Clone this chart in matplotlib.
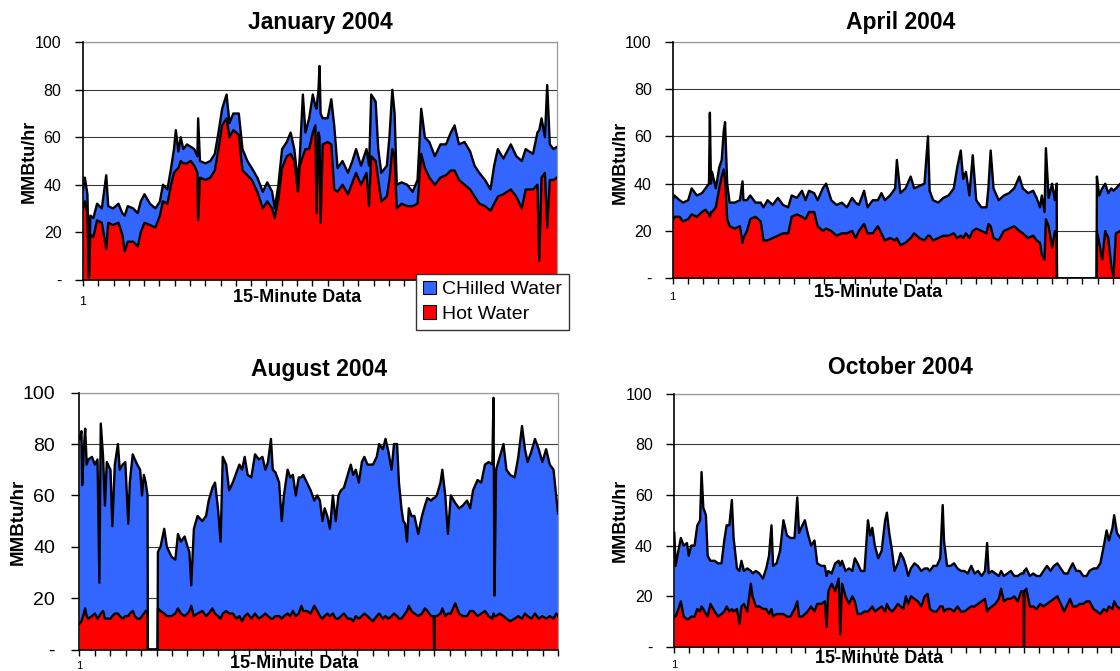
import matplotlib
matplotlib.use("Agg")
import matplotlib.pyplot as plt
from matplotlib.patches import Patch

plt.rcParams["font.family"] = ["Liberation Sans", "DejaVu Sans"]

W, H = 1120, 671
BLUE = "#3366ff"
RED = "#ff0000"

y_ticks = [0, 20, 40, 60, 80, 100]
y_labels = ["-", "20", "40", "60", "80", "100"]

# January 2004 (day of month, total load, hot water load)
jan_day = [0.00, 0.12, 0.29, 0.39, 0.48, 0.68, 0.92, 1.23, 1.52, 1.65, 1.96, 2.32, 2.57, 2.73, 2.93,
           3.29, 3.58, 3.78, 4.02, 4.38, 4.74, 5.03, 5.23, 5.52, 5.76, 5.95, 6.07, 6.24, 6.39, 6.56,
           6.80, 7.04, 7.28, 7.48, 7.53, 7.65, 8.01, 8.33, 8.62, 8.86, 9.10, 9.39, 9.58, 9.83, 10.19,
           10.43, 10.75, 11.04, 11.40, 11.76, 12.05, 12.37, 12.54, 12.78, 13.02, 13.33, 13.58, 13.82,
           14.06, 14.18, 14.38, 14.55, 14.79, 15.03, 15.20, 15.27, 15.40, 15.47, 15.54, 15.68, 16.00,
           16.24, 16.43, 16.65, 16.97, 17.33, 17.62, 17.86, 18.18, 18.54, 18.71, 18.85, 19.14, 19.31,
           19.51, 19.87, 20.04, 20.23, 20.38, 20.52, 20.84, 21.20, 21.56, 21.88, 22.12, 22.36, 22.65,
           23.01, 23.38, 23.74, 24.06, 24.30, 24.59, 24.95, 25.32, 25.61, 25.92, 26.29, 26.65, 26.89,
           27.13, 27.49, 27.98, 28.34, 28.70, 28.95, 29.43, 29.72, 29.84, 29.99, 30.21, 30.36, 30.53,
           30.77, 31.00]
jan_total = [38, 43, 36, 1, 27, 26, 32, 30, 44, 31, 30, 32, 28, 27, 31,
             30, 28, 33, 36, 32, 30, 33, 40, 38, 47, 55, 63, 54, 60, 55,
             57, 56, 55, 52, 68, 50, 49, 50, 53, 62, 72, 78, 66, 70, 70,
             55, 50, 47, 43, 37, 41, 37, 30, 40, 55, 58, 62, 55,
             41, 52, 78, 62, 68, 78, 73, 72, 80, 90, 70, 68, 68,
             76, 65, 47, 50, 45, 50, 55, 48, 55, 48, 78, 75, 55,
             45, 48, 60, 80, 70, 40, 41, 40, 37, 42, 72, 60, 58,
             52, 57, 57, 62, 65, 57, 58, 54, 48, 45, 42, 38, 48,
             55, 51, 57, 52, 50, 55, 53, 62, 63, 68, 60, 82, 57,
             55, 56]
jan_hot = [30, 33, 28, 1, 19, 18, 25, 24, 13, 24, 23, 24, 19, 12, 16,
           16, 14, 20, 24, 23, 22, 27, 33, 32, 40, 45, 46, 47, 50, 49,
           49, 50, 48, 45, 25, 43, 42, 43, 46, 55, 65, 68, 60, 63, 61,
           46, 44, 42, 37, 30, 33, 30, 26, 34, 47, 52, 53, 50,
           37, 48, 52, 55, 55, 62, 65, 28, 62, 60, 24, 57, 58,
           57, 38, 37, 40, 36, 41, 45, 40, 45, 31, 52, 50, 42,
           33, 35, 42, 55, 52, 30, 32, 31, 31, 32, 53, 47, 43,
           40, 43, 44, 46, 46, 42, 40, 38, 35, 32, 31, 29, 32,
           35, 36, 38, 35, 30, 38, 38, 40, 8, 43, 45, 22, 42,
           42, 43]

# April 2004 (data missing between day 25.3 and 28)
apr_day = [0.00, 0.11, 0.45, 0.68, 1.02, 1.25, 1.59, 1.93, 2.16, 2.39, 2.45, 2.52, 2.59, 2.84, 3.07,
           3.23, 3.36, 3.45, 3.59, 3.75, 4.09, 4.43, 4.60, 4.66, 4.89, 5.11, 5.45, 5.80, 5.98, 6.25,
           6.59, 6.93, 7.27, 7.61, 7.84, 8.18, 8.52, 8.75, 8.98, 9.32, 9.55, 9.89, 10.11, 10.45, 10.80,
           11.14, 11.48, 11.82, 12.05, 12.27, 12.61, 12.84, 13.18, 13.52, 13.75, 13.98, 14.32, 14.66,
           14.77, 15.00, 15.34, 15.68, 15.91, 16.25, 16.59, 16.82, 16.93, 17.16, 17.50, 17.84, 18.18,
           18.52, 18.75, 18.98, 19.14, 19.32, 19.55, 19.77, 20.00, 20.34, 20.68, 20.80, 20.95, 21.14,
           21.48, 21.82, 22.16, 22.50, 22.84, 23.07, 23.41, 23.75, 23.98, 24.20, 24.32, 24.50, 24.59,
           24.77, 25.00, 25.18, 25.30, 25.32, 27.93, 27.95, 28.10, 28.30, 28.50, 28.70, 28.90, 29.05,
           29.20, 29.50, 30.00]
apr_total = [33, 35, 33, 32, 33, 38, 35, 36, 38, 40, 70, 40, 45, 38, 47,
             50, 62, 66, 40, 32, 32, 33, 41, 33, 33, 35, 32, 32, 30, 33,
             31, 34, 31, 30, 35, 34, 37, 33, 37, 36, 33, 38, 40, 33, 31,
             32, 30, 34, 32, 31, 37, 30, 33, 33, 36, 33, 35, 38,
             50, 36, 38, 43, 38, 39, 40, 60, 37, 33, 32, 34, 35,
             38, 47, 54, 42, 45, 35, 52, 33, 30, 30, 38, 54, 38,
             33, 35, 36, 38, 43, 38, 36, 37, 34, 30, 35, 28, 55,
             34, 40, 33, 40, 0, 0, 43, 35, 38, 40, 36, 38, 37,
             38, 40, 38]
apr_hot = [24, 26, 26, 24, 25, 27, 26, 28, 29, 27, 26, 28, 28, 30, 38,
           43, 46, 42, 25, 22, 21, 22, 15, 17, 20, 25, 26, 24, 16, 16,
           17, 18, 19, 19, 26, 27, 26, 25, 28, 28, 22, 20, 21, 20, 18,
           19, 19, 20, 17, 20, 23, 19, 19, 22, 19, 16, 17, 16,
           17, 14, 15, 17, 19, 17, 16, 18, 18, 16, 17, 18, 18,
           19, 17, 18, 17, 19, 17, 20, 21, 20, 19, 23, 22, 17,
           16, 20, 21, 22, 20, 19, 17, 18, 16, 15, 10, 8, 25,
           22, 13, 20, 18, 0, 0, 20, 15, 8, 20, 17, 5, 1,
           19, 20, 19]

# August 2004 (data missing around day 5)
aug_day = [0.00, 0.14, 0.19, 0.29, 0.38, 0.48, 0.58, 0.82, 1.01, 1.18, 1.30, 1.39, 1.54, 1.66, 1.78,
           2.02, 2.14, 2.30, 2.50, 2.62, 2.81, 2.98, 3.17, 3.27, 3.46, 3.60, 3.75, 3.94, 4.06, 4.18,
           4.30, 4.42, 4.44, 5.07, 5.09, 5.26, 5.50, 5.67, 5.98, 6.22, 6.39, 6.58, 6.82, 7.01, 7.13,
           7.25, 7.42, 7.66, 7.97, 8.21, 8.38, 8.62, 8.79, 8.98, 9.15, 9.29, 9.51, 9.70, 9.94, 10.18,
           10.37, 10.54, 10.71, 10.90, 11.14, 11.38, 11.62, 11.86, 12.05, 12.22, 12.41, 12.53, 12.70,
           12.94, 13.11, 13.25, 13.49, 13.66, 13.83, 14.02, 14.21, 14.38, 14.50, 14.74, 14.98, 15.22,
           15.41, 15.58, 15.75, 15.89, 16.06, 16.23, 16.42, 16.61, 16.78, 16.95, 17.14, 17.38, 17.58,
           17.74, 17.91, 18.10, 18.30, 18.46, 18.66, 18.82, 19.02, 19.26, 19.42, 19.66, 19.83, 20.02,
           20.22, 20.38, 20.58, 20.70, 20.86, 20.98, 21.10, 21.22, 21.34, 21.51, 21.70, 21.95, 22.19,
           22.38, 22.54, 22.78, 22.95, 22.98, 23.01, 23.15, 23.39, 23.51, 23.70, 23.87, 24.06, 24.35,
           24.59, 24.83, 25.11, 25.31, 25.50, 25.79, 26.03, 26.27, 26.51, 26.75, 26.82, 26.89, 26.99,
           27.23, 27.47, 27.66, 27.90, 28.19, 28.43, 28.67, 28.86, 29.03, 29.27, 29.51, 29.75, 29.99,
           30.23, 30.47, 30.71, 30.88, 31.00]
aug_total = [82, 85, 64, 78, 86, 72, 74, 75, 72, 74, 26, 88, 75, 56, 73,
             70, 48, 72, 80, 70, 72, 73, 49, 65, 76, 74, 72, 70, 60, 68,
             65, 60, 0, 0, 38, 40, 47, 40, 36, 35, 45, 42, 44, 40, 38,
             25, 47, 52, 50, 52, 58, 63, 65, 55, 42, 75, 72, 62, 65, 69,
             72, 70, 75, 68, 67, 76, 74, 75, 70, 73, 82, 70, 69,
             65, 50, 60, 70, 67, 68, 60, 67, 67, 68, 65, 62, 58,
             60, 58, 50, 55, 52, 47, 60, 50, 60, 62, 63, 68, 72,
             68, 70, 65, 73, 75, 72, 72, 72, 75, 80, 78, 82, 77,
             70, 80, 80, 65, 55, 50, 49, 42, 55, 52, 52, 45, 52,
             56, 59, 58, 59, 59, 59, 60, 65, 70, 60, 45, 60, 57,
             55, 56, 58, 55, 62, 66, 65, 72, 73, 72, 98, 21, 70,
             75, 80, 70, 68, 67, 75, 87, 78, 73, 77, 82, 78, 73,
             78, 72, 70, 60, 53]
aug_hot = [10, 11, 12, 14, 16, 13, 12, 13, 14, 12, 13, 14, 15, 12, 12,
           12, 13, 14, 14, 13, 12, 13, 13, 14, 15, 13, 12, 12, 13, 14,
           15, 15, 0, 0, 16, 15, 14, 13, 13, 14, 16, 14, 13, 14, 15,
           17, 13, 14, 15, 13, 14, 16, 14, 13, 12, 14, 15, 14, 14, 12,
           13, 11, 13, 14, 12, 14, 12, 13, 14, 13, 12, 12, 13,
           13, 12, 13, 14, 13, 15, 13, 14, 17, 15, 15, 14, 17,
           15, 13, 12, 13, 14, 13, 14, 12, 12, 13, 14, 12, 12,
           11, 13, 12, 13, 14, 13, 12, 11, 13, 14, 12, 13, 12,
           13, 14, 13, 12, 12, 13, 14, 15, 17, 15, 14, 13, 14,
           16, 15, 13, 13, 0, 13, 13, 14, 16, 13, 14, 14, 18,
           14, 13, 13, 15, 15, 13, 14, 15, 13, 12, 14, 13, 13,
           14, 13, 12, 11, 12, 13, 12, 14, 13, 12, 14, 12, 13,
           12, 13, 12, 14, 13]

# October 2004
oct_day = [0.00, 0.09, 0.28, 0.45, 0.64, 0.87, 0.99, 1.16, 1.39, 1.58, 1.77, 1.87, 1.99, 2.17, 2.29,
           2.48, 2.77, 3.00, 3.24, 3.43, 3.59, 3.78, 3.95, 4.07, 4.30, 4.47, 4.61, 4.78, 5.01, 5.25,
           5.37, 5.60, 5.84, 6.08, 6.31, 6.50, 6.67, 6.78, 7.02, 7.26, 7.49, 7.73, 7.97, 8.25, 8.44,
           8.56, 8.79, 8.96, 9.15, 9.39, 9.62, 9.81, 10.09, 10.33, 10.45, 10.57, 10.80, 11.04, 11.28,
           11.39, 11.51, 11.75, 11.99, 12.22, 12.39, 12.58, 12.81, 13.05, 13.29, 13.45, 13.59, 13.76,
           14.00, 14.23, 14.47, 14.59, 14.75, 14.94, 15.11, 15.34, 15.53, 15.72, 15.89, 16.05, 16.24,
           16.48, 16.71, 16.95, 17.19, 17.38, 17.54, 17.78, 18.01, 18.25, 18.42, 18.51, 18.72, 18.96,
           19.20, 19.43, 19.67, 19.91, 20.14, 20.38, 20.61, 20.85, 21.09, 21.32, 21.47, 21.58, 21.80,
           22.03, 22.27, 22.43, 22.62, 22.86, 23.10, 23.33, 23.57, 23.81, 23.97, 24.00, 24.03, 24.16,
           24.40, 24.63, 24.87, 25.11, 25.34, 25.58, 25.82, 26.05, 26.29, 26.52, 26.76, 27.00, 27.16,
           27.35, 27.59, 27.83, 28.06, 28.30, 28.49, 28.77, 29.01, 29.24, 29.48, 29.67, 29.83, 30.07,
           30.19, 30.38, 30.61, 31.00]
oct_total = [45, 32, 38, 43, 40, 41, 36, 40, 40, 48, 50, 69, 55, 52, 36,
             34, 34, 33, 33, 42, 48, 48, 58, 43, 31, 30, 34, 30, 31, 30,
             29, 30, 29, 27, 31, 36, 48, 32, 33, 38, 50, 44, 43, 43, 59,
             45, 48, 50, 45, 40, 42, 33, 32, 32, 28, 30, 29, 33, 34,
             32, 34, 30, 31, 30, 35, 33, 30, 30, 50, 44, 47, 40,
             35, 38, 50, 53, 45, 38, 30, 33, 37, 35, 32, 28, 31,
             33, 32, 30, 31, 31, 30, 32, 32, 35, 56, 42, 32, 32,
             33, 31, 30, 30, 29, 32, 29, 30, 28, 30, 41, 29, 30,
             29, 28, 30, 28, 29, 30, 28, 28, 29, 29, 30, 30, 31,
             28, 29, 28, 28, 30, 32, 30, 32, 33, 31, 29, 29, 31,
             33, 30, 30, 28, 28, 30, 31, 31, 33, 40, 46, 42, 47,
             52, 45, 43, 42]
oct_hot = [12, 12, 15, 18, 12, 11, 11, 12, 12, 15, 14, 16, 15, 13, 12,
           17, 14, 12, 13, 14, 16, 14, 15, 14, 15, 9, 16, 17, 14, 25,
           20, 16, 16, 15, 15, 13, 15, 12, 13, 13, 13, 12, 12, 15, 18,
           12, 12, 13, 14, 16, 14, 17, 17, 18, 8, 22, 25, 22, 27,
           5, 25, 20, 17, 20, 18, 13, 13, 14, 14, 15, 16, 14,
           15, 16, 14, 17, 15, 14, 15, 17, 16, 15, 20, 17, 20,
           19, 18, 16, 20, 21, 15, 14, 14, 16, 16, 14, 15, 15,
           14, 16, 14, 14, 15, 16, 16, 17, 18, 19, 14, 15, 16,
           17, 19, 23, 18, 19, 19, 20, 18, 22, 22, 0, 22, 23,
           16, 16, 15, 17, 16, 17, 18, 19, 20, 17, 14, 17, 19,
           16, 16, 17, 17, 18, 18, 15, 14, 13, 15, 14, 16, 15,
           18, 16, 15, 14]


def px_box(left, top, right, bottom):
    return [left / W, 1 - bottom / H, (right - left) / W, (bottom - top) / H]


def draw_panel(ax, day, total, hot, n_days, title, title_pad, tick_size, tick_pad, one_size, one_pad):
    ax.fill_between(day, 0, hot, color=RED, lw=0, zorder=2)
    ax.fill_between(day, hot, total, color=BLUE, lw=0, zorder=2)
    ax.plot(day, hot, color="black", lw=1.7, zorder=3)
    ax.plot(day, total, color="black", lw=1.7, zorder=3)

    ax.set_xlim(0, n_days)
    ax.set_ylim(0, 100)
    ax.set_yticks(y_ticks)
    ax.set_yticklabels(y_labels, fontsize=tick_size)
    ax.set_xticks(range(n_days + 1))
    ax.set_xticklabels(["1"] + [""] * n_days, fontsize=one_size)
    ax.tick_params(axis="y", length=5.5, width=1, pad=tick_pad, colors="black")
    ax.tick_params(axis="x", length=4, width=1, pad=one_pad)

    ax.yaxis.grid(True, color="#3a3a3a", lw=0.8)
    ax.set_axisbelow(True)
    for side in ["left", "bottom"]:
        ax.spines[side].set_color("black")
        ax.spines[side].set_linewidth(1.2)
        ax.spines[side].set_zorder(4)
    for side in ["top", "right"]:
        ax.spines[side].set_color("#999999")
        ax.spines[side].set_linewidth(0.9)

    ax.set_title(title, fontsize=16.5, fontweight="bold", pad=title_pad)


def main():
    fig = plt.figure(figsize=(W / 100, H / 100), dpi=100)

    ax_jan = fig.add_axes(px_box(83, 42.3, 557, 279.7))
    ax_apr = fig.add_axes(px_box(672.7, 41.7, 1128, 278.3))
    ax_aug = fig.add_axes(px_box(79.3, 392.7, 558, 649.5))
    ax_oct = fig.add_axes(px_box(674.3, 393.5, 1126, 647))

    draw_panel(ax_jan, jan_day, jan_total, jan_hot, 31, "January 2004", 9.5, 11.5, 10, 9, 8)
    draw_panel(ax_apr, apr_day, apr_total, apr_hot, 30, "April 2004", 9.5, 11.5, 9.6, 8, 6)
    draw_panel(ax_aug, aug_day, aug_total, aug_hot, 31, "August 2004", 12, 14, 12, 8, 4)
    draw_panel(ax_oct, oct_day, oct_total, oct_hot, 31, "October 2004", 14, 11.5, 10, 8, 5.5)

    # axis titles
    for x, y, size in [(29.6, 161, 13), (620, 162, 13), (18, 522, 13.5), (620, 520, 13)]:
        fig.text(x / W, 1 - y / H, "MMBtu/hr", rotation=90, ha="center", va="center",
                 fontsize=size, fontweight="bold")
    for x, y in [(297, 302), (878, 297), (294, 668), (879, 663)]:
        fig.text(x / W, 1 - y / H, "15-Minute Data", ha="center", va="baseline",
                 fontsize=13, fontweight="bold")

    handles = [Patch(facecolor=BLUE, edgecolor="black", lw=0.8, label="CHilled Water"),
               Patch(facecolor=RED, edgecolor="black", lw=0.8, label="Hot Water")]
    fig.legend(handles=handles, loc="upper left", bbox_to_anchor=(416 / W, 1 - 274 / H),
               fontsize=14, frameon=True, fancybox=False, edgecolor="#333333", framealpha=1,
               handlelength=0.7, handleheight=0.7, handletextpad=0.3, borderpad=0.35,
               labelspacing=0.35, borderaxespad=0)

    fig.savefig("out.png", dpi=100)


if __name__ == "__main__":
    main()
